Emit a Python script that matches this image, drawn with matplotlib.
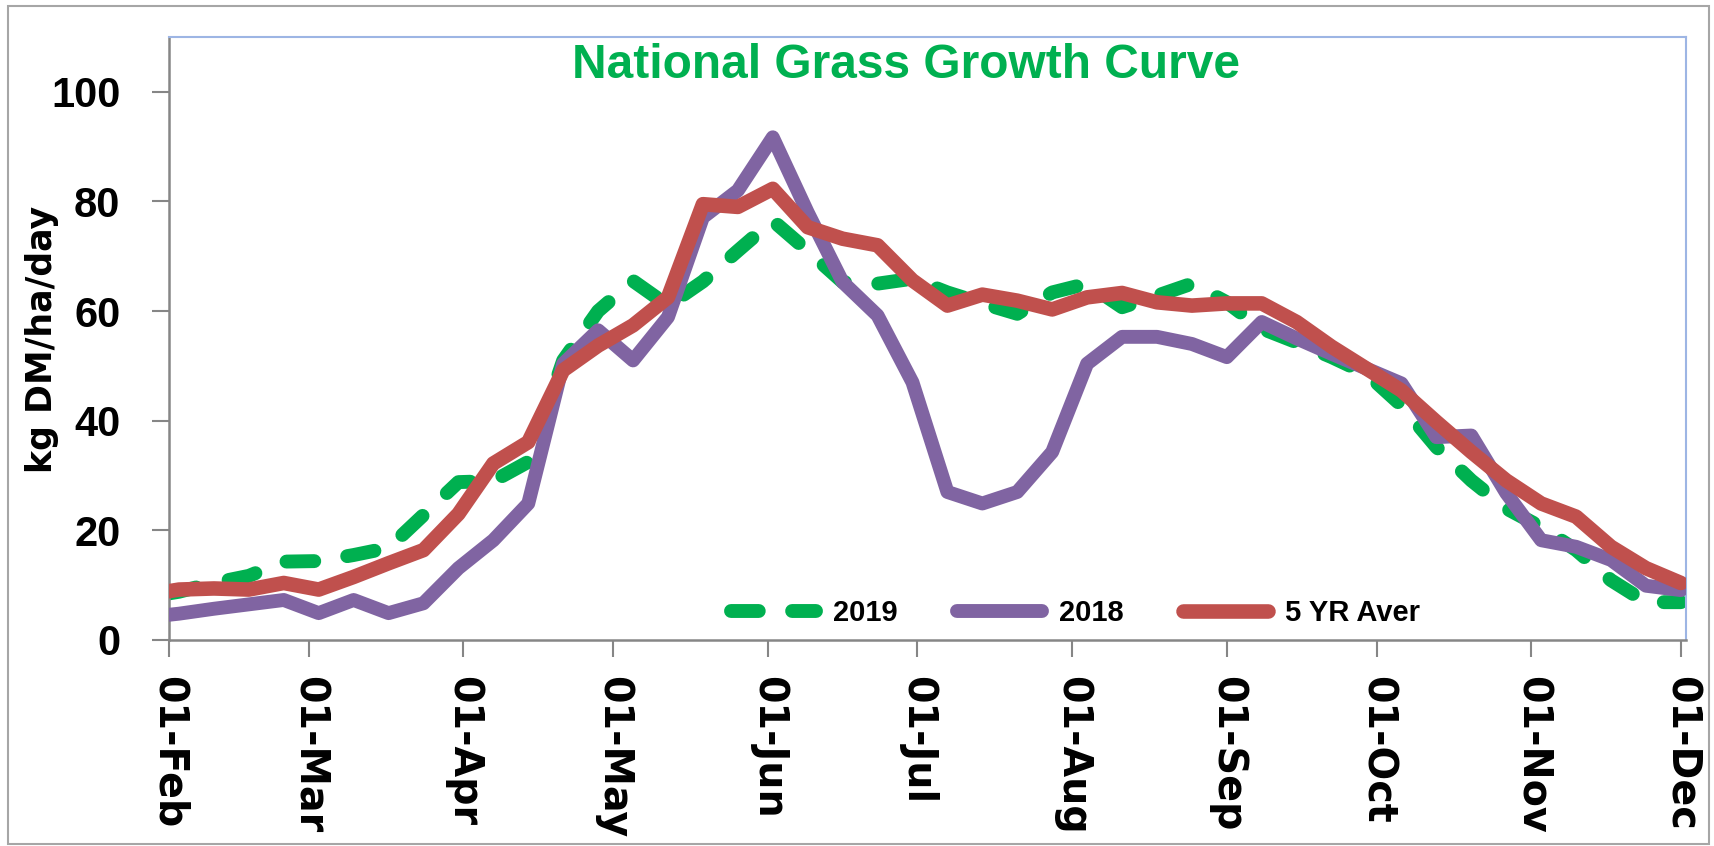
import matplotlib
matplotlib.use('Agg')
import matplotlib.pyplot as plt
import pandas as pd
from matplotlib.patches import Rectangle

# weekly readings (Sundays) plus the 1 Feb start point
dates = pd.to_datetime(['2019-02-01']).append(pd.date_range('2019-02-03', '2019-12-01', freq='7D'))

growth_2019 = [8.5, 8.8, 10.4, 11.7, 14.3, 14.4, 15.5, 16.8, 22.8, 28.8, 29.0, 32.5, 51.0, 60.0, 65.5,
               61.0, 65.4, 71.0, 76.5, 71.0, 65.3, 65.0, 65.9, 63.4, 61.4, 59.5, 63.4, 65.0, 60.7,
               62.8, 65.0, 61.6, 56.8, 54.3, 51.6, 48.6, 42.8, 35.2, 29.1, 24.0, 20.6, 16.4, 10.9,
               6.9, 6.9]
growth_2018 = [4.6, 4.8, 5.7, 6.5, 7.3, 4.9, 7.3, 4.9, 6.7, 13.1, 18.2, 24.9, 50.4, 56.5, 51.0,
               58.9, 77.1, 82.0, 91.7, 78.0, 65.3, 59.2, 47.0, 27.0, 24.9, 27.0, 34.3, 50.4, 55.3,
               55.3, 54.0, 51.6, 58.0, 55.0, 52.2, 49.5, 46.8, 37.0, 37.3, 26.8, 18.2, 17.0, 14.6,
               9.9, 9.1]
five_yr_avg = [8.9, 9.2, 9.4, 9.2, 10.4, 9.2, 11.5, 14.0, 16.4, 23.0, 32.2, 36.1, 49.2, 53.7, 57.4,
               62.5, 79.5, 79.0, 82.3, 75.3, 73.2, 72.0, 65.6, 61.0, 63.0, 61.9, 60.3, 62.5, 63.3,
               61.6, 61.0, 61.4, 61.4, 58.0, 53.5, 49.5, 45.5, 39.8, 34.3, 29.1, 24.9, 22.5, 17.0,
               13.1, 10.4]

month_ticks = pd.to_datetime(['2019-02-01', '2019-03-01', '2019-04-01', '2019-05-01', '2019-06-01',
                              '2019-07-01', '2019-08-01', '2019-09-01', '2019-10-01', '2019-11-01',
                              '2019-12-01'])
month_labels = ['01-Feb', '01-Mar', '01-Apr', '01-May', '01-Jun', '01-Jul',
                '01-Aug', '01-Sep', '01-Oct', '01-Nov', '01-Dec']
y_ticks = [0, 20, 40, 60, 80, 100]

fig = plt.figure(figsize=(17.14, 8.46), dpi=100)
ax = fig.add_axes([0.0986, 0.2435, 0.885, 0.7128])

ax.plot(dates, growth_2019, color='#00b050', lw=10, linestyle=(0, (2.0, 2.4)),
        dash_capstyle='round', dash_joinstyle='round', label='2019', zorder=2)
ax.plot(dates, growth_2018, color='#8064a2', lw=10, solid_capstyle='round',
        solid_joinstyle='round', label='2018', zorder=3)
ax.plot(dates, five_yr_avg, color='#c0504d', lw=10.5, solid_capstyle='round',
        solid_joinstyle='round', label='5 YR Aver', zorder=4)

ax.set_ylim(0, 110)
ax.set_xlim(pd.Timestamp('2019-02-01'), pd.Timestamp('2019-12-02'))

ax.set_yticks(y_ticks)
ax.set_yticklabels([str(v) for v in y_ticks], family='Liberation Sans', fontweight='bold', fontsize=30)
ax.set_xticks(month_ticks)
ax.set_xticklabels(month_labels, family='DejaVu Sans', fontweight='bold', fontsize=28.5, rotation=270)

ax.tick_params(axis='both', direction='out', length=12, width=1.5, color='#868686')
ax.tick_params(axis='y', pad=23)
ax.tick_params(axis='x', pad=14)

for side in ['left', 'bottom']:
    ax.spines[side].set_color('#868686')
    ax.spines[side].set_linewidth(1.8)
for side in ['top', 'right']:
    ax.spines[side].set_color('#9db5e4')
    ax.spines[side].set_linewidth(1.5)

# title inside the plot area
fig.text(905.5 / 1714, 1 - 78 / 846, 'National Grass Growth Curve', color='#00b050',
         fontsize=34.5, fontweight='bold', family='Liberation Sans', ha='center', va='baseline')

fig.text(42 / 1714, 1 - 339 / 846, 'kg DM/ha/day', rotation=90, fontsize=25,
         fontweight='bold', family='DejaVu Sans', ha='center', va='center')

leg = ax.legend(loc='center', bbox_to_anchor=(0.5976, 0.0448), ncol=3, frameon=False,
                handlelength=2.9, handletextpad=0.58, columnspacing=2.05,
                prop={'family': 'Liberation Sans', 'weight': 'bold', 'size': 21})

# outer chart border
fig.patches.append(Rectangle((0.0047, 0.002), 0.9924, 0.991, transform=fig.transFigure,
                             fill=False, edgecolor='#a6a6a6', lw=1.5))

fig.savefig('out.png', dpi=100)
